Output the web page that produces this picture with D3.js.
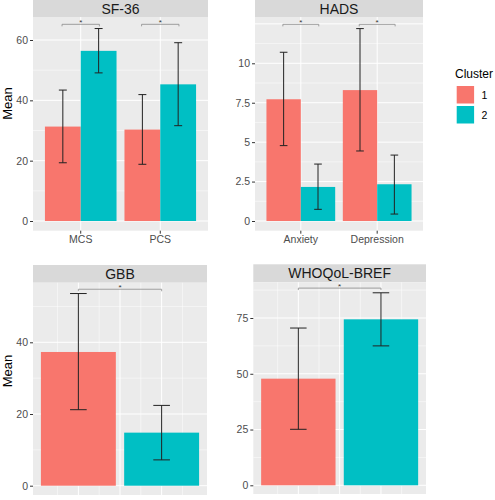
<!DOCTYPE html>
<html><head><meta charset="utf-8">
<script src="https://cdn.jsdelivr.net/npm/d3@7"></script>
<style>body{margin:0;background:#fff}svg{display:block;font-family:"Liberation Sans",Arial,sans-serif}</style>
</head><body>
<svg id="c" width="495" height="500"></svg>
<script>
// ---- data ----
const clusters = ["1", "2"];
const clusterColors = ["#F8766D", "#00BFC4"];

const sfCategories = ["MCS", "PCS"];
const sfMean1 = [31.3, 30.3], sfLow1 = [19.3, 18.8], sfHigh1 = [43.4, 41.9];
const sfMean2 = [56.4, 45.3], sfLow2 = [49.1, 31.6], sfHigh2 = [63.8, 59.1];
const sfTicks = [0, 20, 40, 60];
const sfSig = [65.2, 65.2];

const hadsCategories = ["Anxiety", "Depression"];
const hadsMean1 = [7.72, 8.3], hadsLow1 = [4.78, 4.44], hadsHigh1 = [10.7, 12.2];
const hadsMean2 = [2.16, 2.33], hadsLow2 = [0.74, 0.44], hadsHigh2 = [3.61, 4.18];
const hadsTicks = [0, 2.5, 5, 7.5, 10];
const hadsSig = [12.47, 12.47];

const gbbMean = [37.3, 14.8], gbbLow = [21.2, 7.2], gbbHigh = [53.6, 22.4];
const gbbTicks = [0, 20, 40];
const gbbSig = 54.8;

const whoMean = [47.8, 74.4], whoLow = [25.1, 62.5], whoHigh = [70.5, 86.3];
const whoTicks = [0, 25, 50, 75];
const whoSig = 88.4;

const panelTitles = ["SF-36", "HADS", "GBB", "WHOQoL-BREF"];

// ---- drawing ----
const svg = d3.select("#c");
const BG = "#EBEBEB", STRIP = "#D9D9D9";

function panelFrame(p) {
  const g = svg.append("g");
  g.append("rect").attr("x", p.x0).attr("y", p.sy0).attr("width", p.x1 - p.x0).attr("height", p.y0 - p.sy0).attr("fill", STRIP);
  g.append("text").attr("x", (p.x0 + p.x1) / 2).attr("y", (p.sy0 + p.y0) / 2 + 5).attr("text-anchor", "middle")
    .attr("font-size", 14).attr("fill", "#1A1A1A").text(p.title);
  g.append("rect").attr("x", p.x0).attr("y", p.y0).attr("width", p.x1 - p.x0).attr("height", p.y1 - p.y0).attr("fill", BG);
  const inY = v => { const y = p.y(v); return y >= p.y0 && y <= p.y1; };
  p.minorY.filter(inY).forEach(v => g.append("line").attr("x1", p.x0).attr("x2", p.x1).attr("y1", p.y(v)).attr("y2", p.y(v)).attr("stroke", "#fff").attr("stroke-width", 0.5));
  p.majorY.filter(inY).forEach(v => g.append("line").attr("x1", p.x0).attr("x2", p.x1).attr("y1", p.y(v)).attr("y2", p.y(v)).attr("stroke", "#fff").attr("stroke-width", 1));
  (p.minorX || []).forEach(v => g.append("line").attr("y1", p.y0).attr("y2", p.y1).attr("x1", p.x(v)).attr("x2", p.x(v)).attr("stroke", "#fff").attr("stroke-width", 0.5));
  p.majorX.forEach(v => g.append("line").attr("y1", p.y0).attr("y2", p.y1).attr("x1", p.x(v)).attr("x2", p.x(v)).attr("stroke", "#fff").attr("stroke-width", 1));
  const ax = svg.append("g").attr("transform", `translate(${p.x0},0)`)
    .call(d3.axisLeft(p.y).tickValues(p.ticks).tickSize(3).tickPadding(2).tickFormat(d => String(d)));
  ax.select(".domain").remove();
  ax.selectAll("line").attr("stroke", "#333");
  ax.selectAll("text").attr("font-size", 10.5).attr("fill", "#4D4D4D").attr("font-family", "Liberation Sans, Arial, sans-serif");
  return g;
}

function errBar(g, x, lo, hi, half, y) {
  g.append("line").attr("x1", x).attr("x2", x).attr("y1", y(lo)).attr("y2", y(hi)).attr("stroke", "#222").attr("stroke-width", 1);
  [lo, hi].forEach(v => g.append("line").attr("x1", x - half).attr("x2", x + half).attr("y1", y(v)).attr("y2", y(v)).attr("stroke", "#222").attr("stroke-width", 1));
}
function bracket(g, xa, xb, yy) {
  g.append("path").attr("d", `M${xa},${yy + 2}V${yy}H${xb}V${yy + 2}`).attr("fill", "none").attr("stroke", "#8a8a8a").attr("stroke-width", 0.8);
  g.append("text").attr("x", (xa + xb) / 2).attr("y", yy + 1).attr("text-anchor", "middle").attr("font-size", 8).attr("fill", "#333").text("*");
}

function groupedPanel(cfg) {
  const x = d3.scaleLinear().domain([0.4, 2.6]).range([cfg.x0, cfg.x1]);
  const y = d3.scaleLinear().domain(cfg.dom).range(cfg.rng);
  const p = Object.assign({ x, y, majorX: [1, 2] }, cfg);
  const g = panelFrame(p);
  const series = [[cfg.m1, cfg.l1, cfg.h1], [cfg.m2, cfg.l2, cfg.h2]];
  const bw = x(1.45) - x(1);
  cfg.cats.forEach((c, i) => {
    series.forEach((s, k) => {
      const cx = x(i + 1 + (k === 0 ? -0.225 : 0.225));
      g.append("rect").attr("x", cx - bw / 2).attr("y", y(s[0][i])).attr("width", bw).attr("height", y(0) - y(s[0][i])).attr("fill", clusterColors[k]);
    });
    series.forEach((s, k) => {
      const cx = x(i + 1 + (k === 0 ? -0.225 : 0.225));
      errBar(g, cx, s[1][i], s[2][i], x(0.05) - x(0), y);
    });
    bracket(g, x(i + 1 - 0.235), x(i + 1 + 0.235), y(cfg.sig[i]));
    svg.append("line").attr("x1", x(i + 1)).attr("x2", x(i + 1)).attr("y1", cfg.y1).attr("y2", cfg.y1 + 3).attr("stroke", "#333");
    svg.append("text").attr("x", x(i + 1)).attr("y", cfg.y1 + 12.5).attr("text-anchor", "middle").attr("font-size", 10.5).attr("fill", "#4D4D4D").text(c);
  });
}

function singlePanel(cfg) {
  const x = d3.scaleLinear().domain([0.455, 2.545]).range([cfg.x0, cfg.x1]);
  const y = d3.scaleLinear().domain(cfg.dom).range(cfg.rng);
  const p = Object.assign({ x, y, majorX: [1, 1.5, 2], minorX: [0.75, 1.25, 1.75, 2.25] }, cfg);
  const g = panelFrame(p);
  const bw = x(1.9) - x(1);
  clusters.forEach((c, k) => {
    g.append("rect").attr("x", x(k + 1) - bw / 2).attr("y", y(cfg.m[k])).attr("width", bw).attr("height", y(0) - y(cfg.m[k])).attr("fill", clusterColors[k]);
  });
  clusters.forEach((c, k) => errBar(g, x(k + 1), cfg.l[k], cfg.h[k], x(1.1) - x(1), y));
  bracket(g, x(1), x(2), y(cfg.sig));
}

groupedPanel({ title: panelTitles[0], x0: 33, x1: 208, sy0: 0, y0: 17, y1: 230.7, dom: [0, 60], rng: [221, 40],
  ticks: sfTicks, majorY: [0, 20, 40, 60], minorY: [10, 30, 50, 70],
  cats: sfCategories, m1: sfMean1, l1: sfLow1, h1: sfHigh1, m2: sfMean2, l2: sfLow2, h2: sfHigh2, sig: sfSig });

groupedPanel({ title: panelTitles[1], x0: 255, x1: 423, sy0: 0, y0: 17, y1: 230.7, dom: [0, 10], rng: [221, 63.3],
  ticks: hadsTicks, majorY: [0, 2.5, 5, 7.5, 10, 12.5], minorY: [1.25, 3.75, 6.25, 8.75, 11.25],
  cats: hadsCategories, m1: hadsMean1, l1: hadsLow1, h1: hadsHigh1, m2: hadsMean2, l2: hadsLow2, h2: hadsHigh2, sig: hadsSig });

singlePanel({ title: panelTitles[2], x0: 33, x1: 207, sy0: 265, y0: 282.7, y1: 495, dom: [0, 40], rng: [485.7, 342.3],
  ticks: gbbTicks, majorY: [0, 20, 40, 60], minorY: [10, 30, 50],
  m: gbbMean, l: gbbLow, h: gbbHigh, sig: gbbSig });

singlePanel({ title: panelTitles[3], x0: 253.3, x1: 426, sy0: 264.3, y0: 282.3, y1: 494, dom: [0, 75], rng: [485.3, 318],
  ticks: whoTicks, majorY: [0, 25, 50, 75], minorY: [12.5, 37.5, 62.5, 87.5],
  m: whoMean, l: whoLow, h: whoHigh, sig: whoSig });

[[7.5, 103.5], [7.5, 371]].forEach(([tx, ty]) => {
  svg.append("text").attr("transform", `translate(${tx + 4},${ty}) rotate(-90)`).attr("text-anchor", "middle")
    .attr("font-size", 13).attr("fill", "#000").text("Mean");
});

const lg = svg.append("g");
lg.append("text").attr("x", 455).attr("y", 77.5).attr("font-size", 12).attr("fill", "#000").text("Cluster");
clusters.forEach((c, k) => {
  const ky = 86 + k * 20;
  lg.append("rect").attr("x", 456.7).attr("y", ky).attr("width", 17.4).attr("height", 17.5).attr("fill", clusterColors[k]);
  lg.append("text").attr("x", 481.5).attr("y", ky + 12.5).attr("font-size", 10.5).attr("fill", "#000").text(c);
});
</script>
</body></html>
